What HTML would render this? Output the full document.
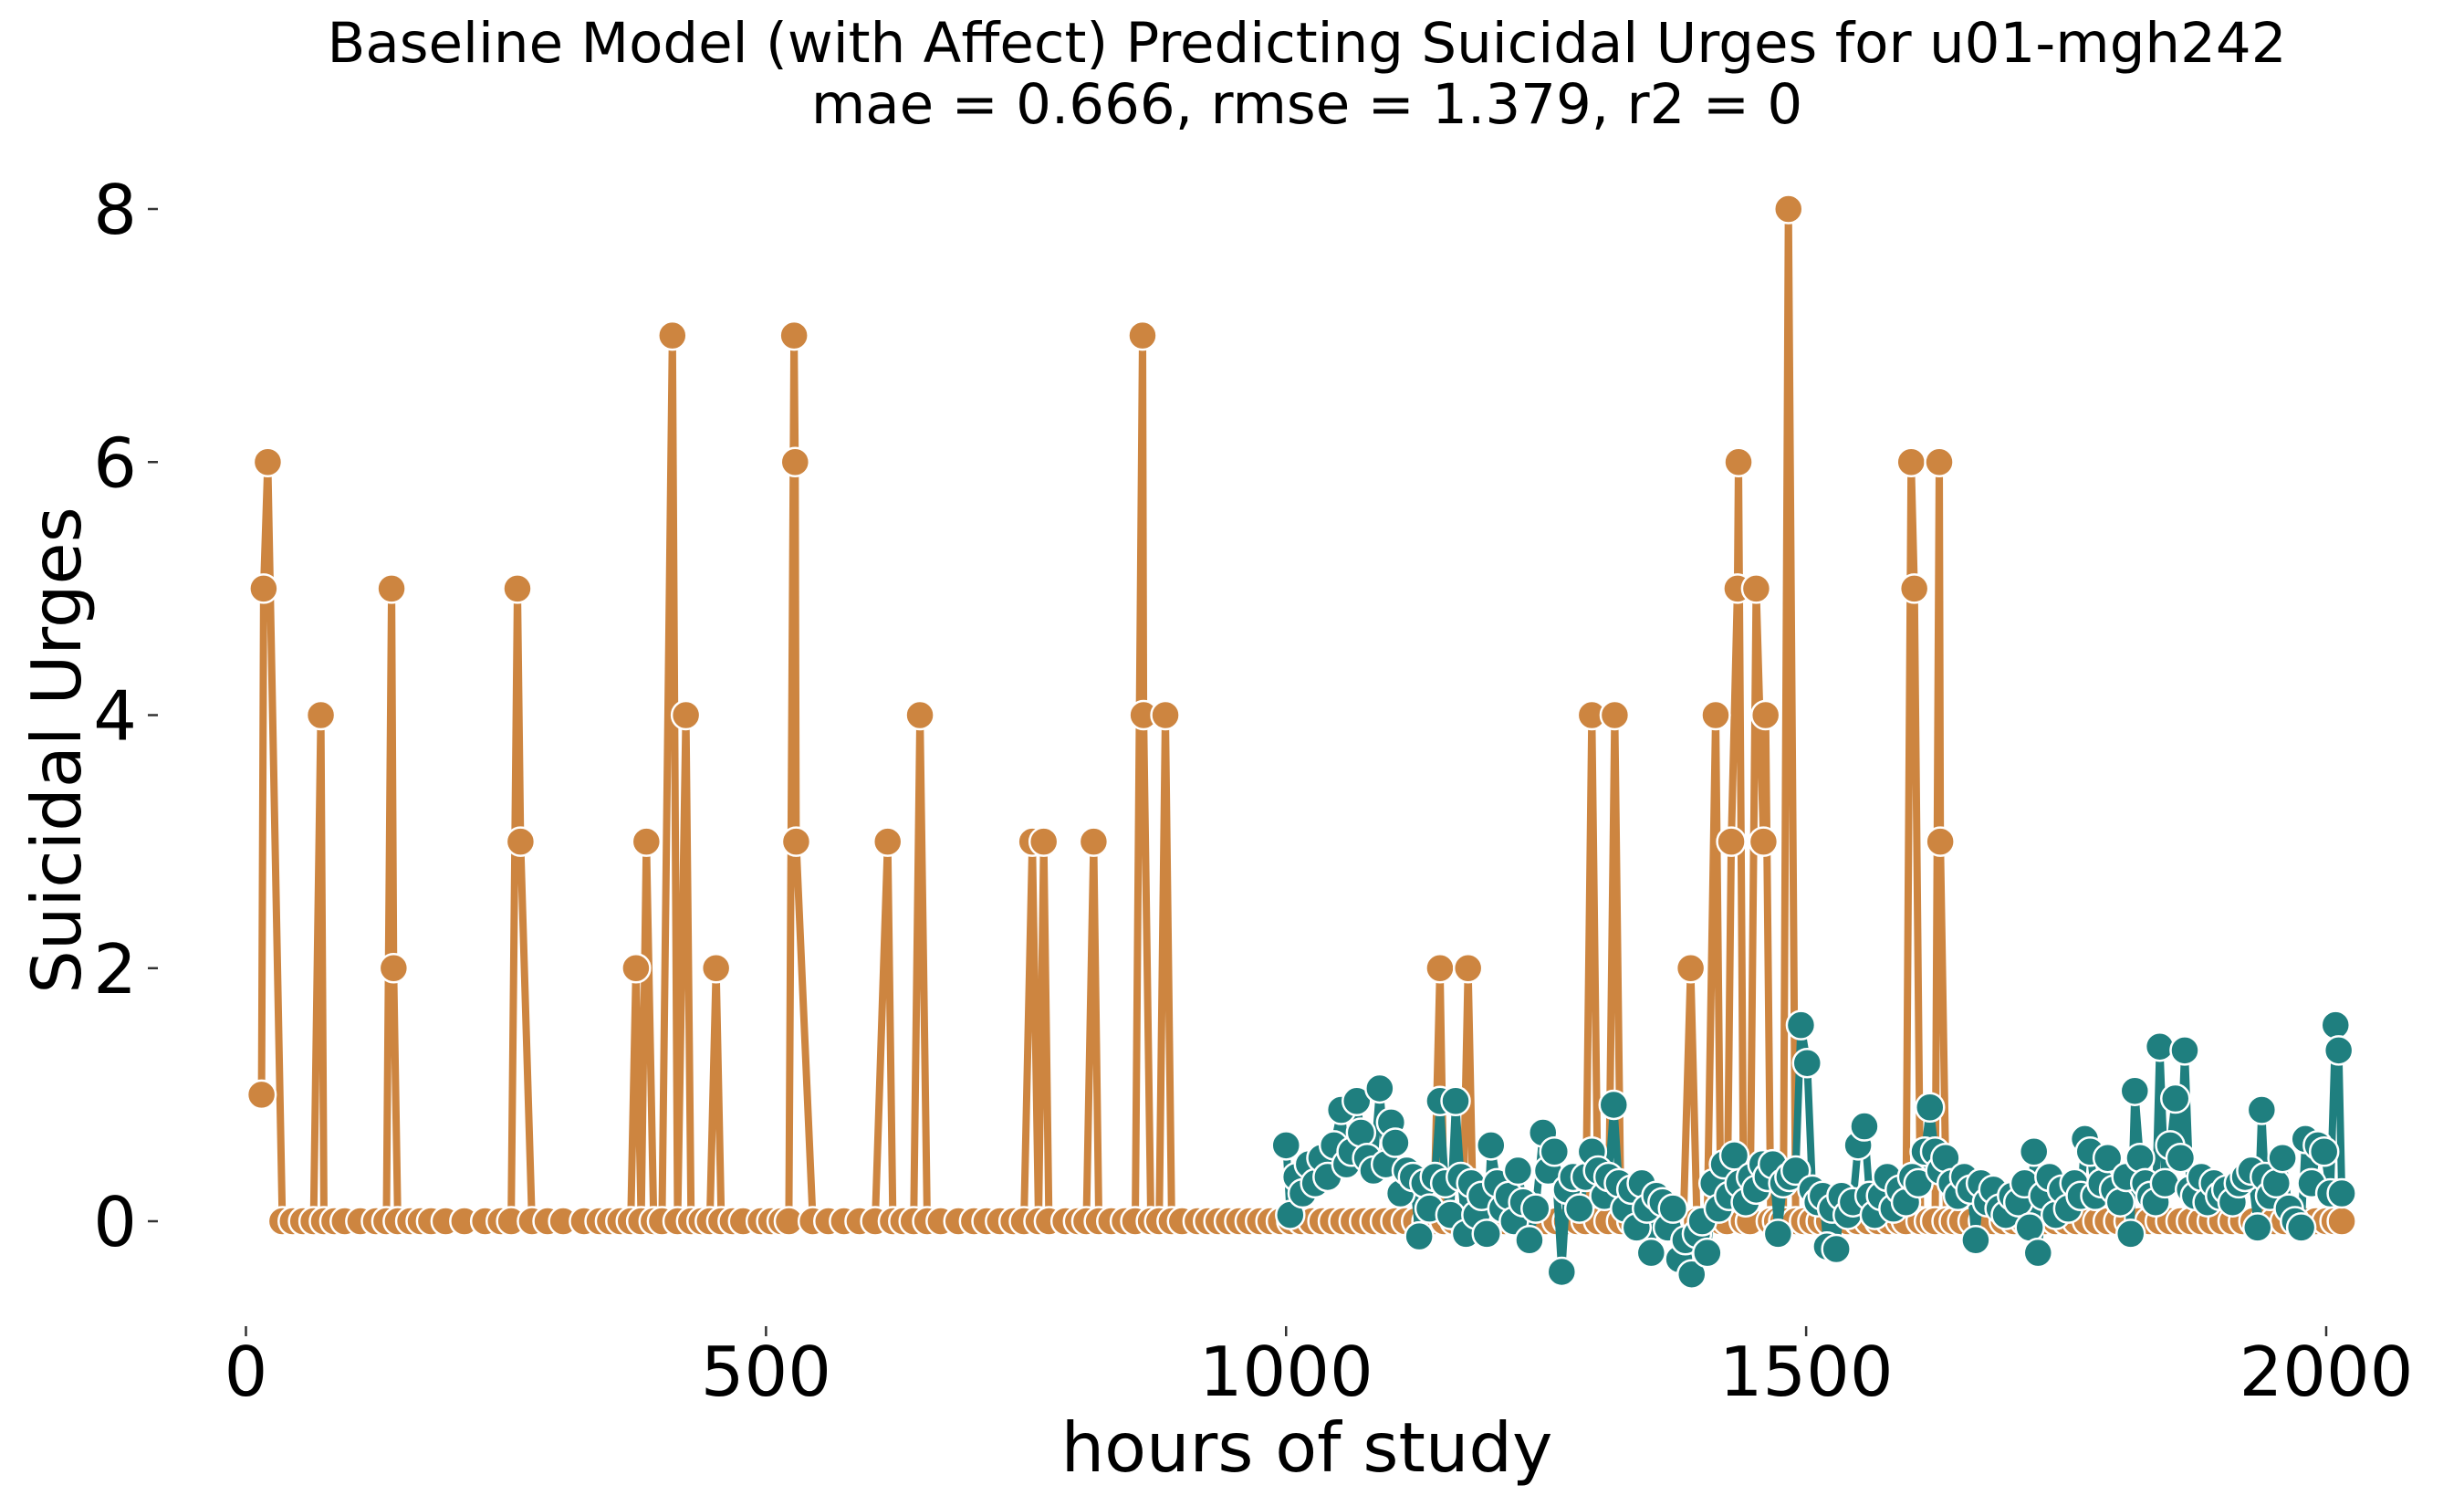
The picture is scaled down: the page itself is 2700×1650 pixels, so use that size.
<!DOCTYPE html>
<html><head><meta charset="utf-8"><style>
html,body{margin:0;padding:0;background:#fff}
svg{display:block;font-family:"DejaVu Sans","Liberation Sans",sans-serif}
</style></head><body>
<svg id="chart" width="2700" height="1650" viewBox="0 0 2700 1650" xmlns="http://www.w3.org/2000/svg">
<text x="1432" y="68" font-size="61" text-anchor="middle" fill="#000">Baseline Model (with Affect) Predicting Suicidal Urges for u01-mgh242</text>
<text x="1432" y="135" font-size="61" text-anchor="middle" fill="#000">mae = 0.666, rmse = 1.379, r2 = 0</text>
<g id="axes"></g>
<g id="orange"></g>
<g id="teal"></g>
<text x="1432" y="1612" font-size="75" text-anchor="middle" fill="#000">hours of study</text>
<text transform="translate(88,822) rotate(-90)" font-size="75" text-anchor="middle" fill="#000">Suicidal Urges</text>
</svg>
<script>
const xTicks=[0,500,1000,1500,2000];
const yTicks=[0,2,4,6,8];
const actualPoints=[[15,1],[17,5],[21,6],[35,0],[45,0],[55,0],[65,0],[72,4],[75,0],[85,0],[95,0],[110,0],[125,0],[135,0],[140,5],[142,2],[146,0],[158,0],[168,0],[178,0],[192,0],[210,0],[230,0],[245,0],[255,0],[261,5],[264,3],[275,0],[290,0],[305,0],[325,0],[340,0],[350,0],[360,0],[370,0],[375,2],[380,0],[385,3],[392,0],[400,0],[410,7],[415,0],[423,4],[428,0],[438,0],[446,0],[452,2],[457,0],[468,0],[478,0],[495,0],[505,0],[515,0],[522,0],[527,7],[528,6],[529,3],[545,0],[560,0],[575,0],[590,0],[605,0],[617,3],[622,0],[632,0],[642,0],[648,4],[655,0],[668,0],[685,0],[700,0],[712,0],[725,0],[738,0],[748,0],[756,3],[762,0],[767,3],[772,0],[788,0],[800,0],[808,0],[815,3],[820,0],[832,0],[845,0],[855,0],[862,7],[863,4],[870,0],[878,0],[884,4],[890,0],[900,0],[915,0],[925,0],[935,0],[945,0],[955,0],[965,0],[975,0],[985,0],[995,0],[1005,0],[1015,0],[1025,0],[1035,0],[1045,0],[1055,0],[1065,0],[1075,0],[1085,0],[1095,0],[1105,0],[1115,0],[1125,0],[1135,0],[1142,0],[1148,2],[1152,0],[1162,0],[1170,0],[1175,2],[1180,0],[1190,0],[1200,0],[1210,0],[1220,0],[1230,0],[1240,0],[1250,0],[1260,0],[1270,0],[1280,0],[1288,0],[1294,4],[1300,0],[1310,0],[1316,4],[1322,0],[1332,0],[1342,0],[1352,0],[1362,0],[1372,0],[1382,0],[1389,2],[1395,0],[1405,0],[1413,4],[1418,0],[1424,0],[1428,3],[1434,5],[1435,6],[1440,0],[1446,0],[1452,5],[1459,3],[1461,4],[1466,0],[1472,0],[1478,0],[1483,8],[1490,0],[1498,0],[1506,0],[1514,0],[1522,0],[1530,0],[1540,0],[1550,0],[1560,0],[1570,0],[1580,0],[1590,0],[1596,0],[1601,6],[1604,5],[1610,0],[1618,0],[1624,0],[1628,6],[1629,3],[1635,0],[1642,0],[1650,0],[1660,0],[1670,0],[1680,0],[1690,0],[1700,0],[1710,0],[1720,0],[1730,0],[1740,0],[1750,0],[1760,0],[1770,0],[1780,0],[1790,0],[1800,0],[1810,0],[1820,0],[1830,0],[1840,0],[1850,0],[1860,0],[1870,0],[1880,0],[1890,0],[1900,0],[1910,0],[1920,0],[1930,0],[1940,0],[1950,0],[1960,0],[1970,0],[1980,0],[1990,0],[2000,0],[2008,0],[2015,0]];
const predictedPoints=[[1000,0.6],[1004,0.05],[1010,0.35],[1016,0.22],[1022,0.45],[1028,0.3],[1034,0.5],[1040,0.35],[1046,0.6],[1053,0.88],[1058,0.45],[1063,0.55],[1068,0.95],[1072,0.7],[1078,0.5],[1084,0.4],[1090,1.05],[1096,0.45],[1101,0.78],[1105,0.62],[1110,0.22],[1116,0.4],[1122,0.35],[1128,-0.12],[1133,0.3],[1138,0.1],[1143,0.35],[1148,0.95],[1153,0.3],[1158,0.05],[1163,0.95],[1168,0.35],[1173,-0.1],[1178,0.3],[1183,0.05],[1188,0.2],[1193,-0.1],[1197,0.6],[1203,0.3],[1208,0.1],[1214,0.2],[1219,0.0],[1223,0.4],[1228,0.15],[1234,-0.15],[1240,0.1],[1247,0.7],[1252,0.4],[1258,0.55],[1265,-0.4],[1270,0.25],[1276,0.35],[1282,0.1],[1288,0.35],[1294,0.55],[1300,0.4],[1306,0.2],[1310,0.35],[1315,0.92],[1320,0.3],[1326,0.1],[1332,0.25],[1337,-0.05],[1342,0.3],[1347,0.1],[1351,-0.25],[1356,0.2],[1362,0.15],[1367,-0.05],[1372,0.1],[1378,-0.3],[1384,-0.15],[1390,-0.42],[1395,-0.1],[1400,0.0],[1405,-0.25],[1411,0.3],[1416,0.1],[1421,0.45],[1426,0.2],[1431,0.52],[1436,0.3],[1442,0.15],[1447,0.35],[1452,0.25],[1458,0.45],[1463,0.35],[1468,0.45],[1473,-0.1],[1478,0.3],[1484,0.35],[1490,0.4],[1495,1.55],[1501,1.25],[1506,0.25],[1511,0.15],[1516,0.2],[1520,-0.2],[1525,0.1],[1529,-0.22],[1534,0.2],[1540,0.05],[1545,0.15],[1550,0.6],[1556,0.75],[1561,0.2],[1566,0.05],[1572,0.2],[1578,0.35],[1584,0.1],[1590,0.25],[1596,0.15],[1602,0.35],[1608,0.3],[1614,0.55],[1619,0.9],[1624,0.55],[1629,0.4],[1634,0.5],[1640,0.3],[1646,0.2],[1652,0.35],[1658,0.25],[1663,-0.15],[1668,0.3],[1674,0.15],[1680,0.25],[1686,0.1],[1692,0.05],[1698,0.2],[1704,0.15],[1710,0.3],[1715,-0.05],[1719,0.55],[1723,-0.25],[1728,0.2],[1734,0.35],[1740,0.05],[1746,0.25],[1752,0.1],[1758,0.3],[1764,0.2],[1768,0.65],[1773,0.55],[1778,0.2],[1784,0.3],[1790,0.5],[1796,0.25],[1802,0.15],[1808,0.35],[1812,-0.1],[1816,1.03],[1821,0.5],[1826,0.3],[1831,0.2],[1836,0.15],[1840,1.38],[1845,0.3],[1850,0.6],[1855,0.97],[1860,0.5],[1864,1.35],[1869,0.25],[1874,0.2],[1880,0.35],[1886,0.15],[1892,0.3],[1898,0.2],[1904,0.25],[1910,0.15],[1916,0.3],[1922,0.35],[1928,0.4],[1934,-0.05],[1938,0.88],[1941,0.35],[1946,0.2],[1952,0.3],[1958,0.5],[1964,0.1],[1970,0.0],[1976,-0.05],[1980,0.65],[1986,0.3],[1992,0.6],[1998,0.55],[2004,0.22],[2009,1.55],[2012,1.35],[2015,0.22]];

const NS="http://www.w3.org/2000/svg";
function xs(h){return 269.5+h*(2549-269.5)/2000;}
function ys(v){return 1338-v*(1338-229)/8;}
function mk(tag,attrs,parent){const e=document.createElementNS(NS,tag);for(const k in attrs)e.setAttribute(k,attrs[k]);parent.appendChild(e);return e;}
const axes=document.getElementById('axes');
xTicks.forEach(t=>{
  const tk=mk('line',{x1:xs(t),x2:xs(t),y1:1453,y2:1464,stroke:'#333','stroke-width':2.5},axes);
  
  
  const lab=mk('text',{x:xs(t),y:1529,'font-size':75,'text-anchor':'middle',fill:'#000'},axes);
  lab.textContent=String(t);
  
  
});
yTicks.forEach(t=>{
  const tk=mk('line',{x1:162,x2:173,y1:ys(t),y2:ys(t),stroke:'#333','stroke-width':2.5},axes);
  
  
  const lab=mk('text',{x:150,y:ys(t)+27,'font-size':75,'text-anchor':'end',fill:'#000'},axes);
  lab.textContent=String(t);
  
  
});
function drawSeries(g,points,color,nameLine,nameDot){
  const pts=points.map(p=>xs(p[0]).toFixed(1)+','+ys(p[1]).toFixed(1)).join(' ');
  const pl=mk('polyline',{points:pts,fill:'none',stroke:color,'stroke-width':8,'stroke-linejoin':'round'},g);
  
  
  points.forEach(p=>{
    const c=mk('circle',{cx:xs(p[0]),cy:ys(p[1]),r:15.5,fill:color,stroke:'#fff','stroke-width':2.5},g);
    
    
  });
}
drawSeries(document.getElementById('orange'),actualPoints,'#CD8540','actual-line','actual-point');
drawSeries(document.getElementById('teal'),predictedPoints,'#1F7F7F','predicted-line','predicted-point');
</script>
</body></html>
